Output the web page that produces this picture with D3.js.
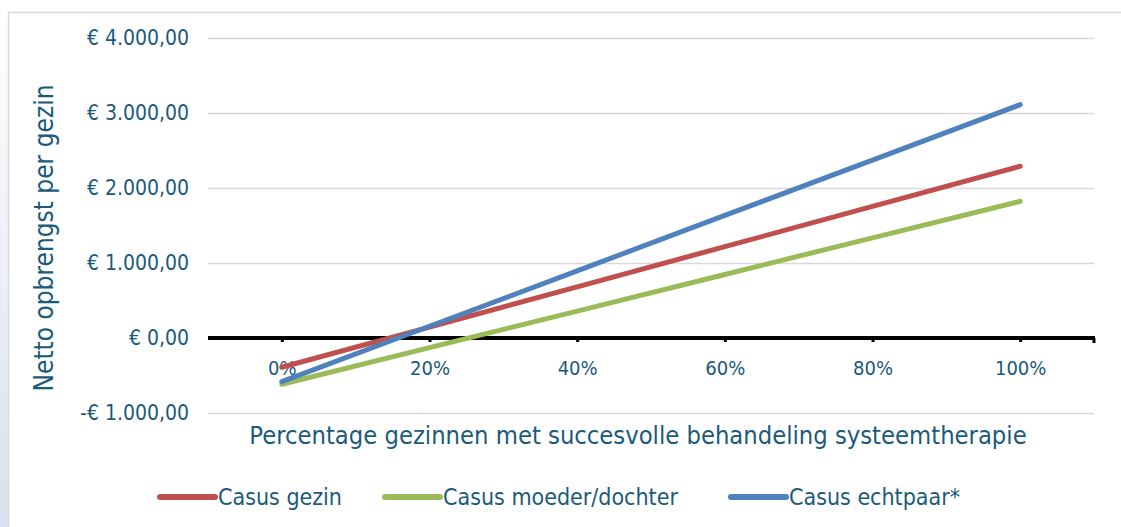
<!DOCTYPE html>
<html>
<head>
<meta charset="utf-8">
<script src="https://cdn.jsdelivr.net/npm/d3@7"></script>
<style>
  body { margin: 0; background: #fff; }
  svg text { font-family: "DejaVu Sans Condensed", "DejaVu Sans", sans-serif; fill: #1b5a7a; }
  .grid line { stroke: #d9d9d9; stroke-width: 1.5; }
  .grid .domain { display: none; }
</style>
</head>
<body>
<div id="chart"></div>
<script>
// data
var categories = ['0%', '20%', '40%', '60%', '80%', '100%'];
var gezin = [-390, 146, 682, 1218, 1754, 2290];
var moederDochter = [-617, -129, 359, 847, 1335, 1823];
var echtpaar = [-582, 157, 895, 1634, 2372, 3111];
var yTicks = [-1000, 0, 1000, 2000, 3000, 4000];
var legendNames = ['Casus gezin', 'Casus moeder/dochter', 'Casus echtpaar*'];

var series = [
  { name: legendNames[0], values: gezin, color: '#c0504d' },
  { name: legendNames[1], values: moederDochter, color: '#9bbb59' },
  { name: legendNames[2], values: echtpaar, color: '#4f81bd' }
];

var W = 1121, H = 527;
var plot = { left: 208, right: 1094, top: 38, bottom: 413 };

var svg = d3.select('#chart').append('svg')
  .attr('width', W)
  .attr('height', H);

// left bluish strip + frame
var grad = svg.append('defs').append('linearGradient')
  .attr('id', 'side').attr('x1', 0).attr('y1', 0).attr('x2', 0).attr('y2', 1);
grad.append('stop').attr('offset', 0).attr('stop-color', '#ffffff');
grad.append('stop').attr('offset', 1).attr('stop-color', '#d9e1ee');
svg.append('rect').attr('x', 0).attr('y', 0).attr('width', 8).attr('height', H).attr('fill', 'url(#side)');
svg.append('rect')
  .attr('x', 8.5).attr('y', 12.5).attr('width', W).attr('height', H)
  .attr('fill', '#fff').attr('stroke', '#d9d9d9').attr('stroke-width', 1.5);

var x = d3.scalePoint()
  .domain(categories)
  .range([plot.left, plot.right])
  .padding(0.5);

var y = d3.scaleLinear()
  .domain([-1000, 4000])
  .range([plot.bottom, plot.top]);

var nl = d3.formatLocale({
  decimal: ',', thousands: '.', grouping: [3], currency: ['€ ', ''], minus: '-'
});
var euro = nl.format('$,.2f');

// gridlines + y labels
var yAxis = d3.axisLeft(y)
  .tickValues(yTicks)
  .tickSize(-(plot.right - plot.left))
  .tickPadding(19)
  .tickFormat(euro);

svg.append('g')
  .attr('class', 'grid')
  .attr('transform', 'translate(' + plot.left + ',0)')
  .call(yAxis)
  .selectAll('text')
  .style('font-size', '21px');

// zero axis
var xAxis = d3.axisBottom(x)
  .tickSize(4)
  .tickPadding(19);

var gx = svg.append('g')
  .attr('transform', 'translate(0,' + y(0) + ')')
  .call(xAxis);
gx.select('.domain').remove();
gx.selectAll('line').attr('stroke', '#000').attr('stroke-width', 3);
gx.selectAll('text').style('font-size', '20px');
gx.append('line')
  .attr('x1', plot.left).attr('x2', plot.right + 1)
  .attr('stroke', '#000').attr('stroke-width', 4);
gx.append('line')
  .attr('x1', plot.right).attr('x2', plot.right).attr('y1', 0).attr('y2', 5)
  .attr('stroke', '#000').attr('stroke-width', 3);

// lines
var line = d3.line()
  .x((d, i) => x(categories[i]))
  .y(d => y(d));

svg.selectAll('.series')
  .data(series)
  .enter()
  .append('path')
  .attr('class', 'series')
  .attr('d', d => line(d.values))
  .attr('fill', 'none')
  .attr('stroke', d => d.color)
  .attr('stroke-width', 5)
  .attr('stroke-linecap', 'round');

// axis titles
svg.append('text')
  .attr('x', 638)
  .attr('y', 444)
  .attr('text-anchor', 'middle')
  .style('font-size', '25.3px')
  .text('Percentage gezinnen met succesvolle behandeling systeemtherapie');

svg.append('text')
  .attr('transform', 'translate(53,238) rotate(-90)')
  .attr('text-anchor', 'middle')
  .style('font-size', '26px')
  .text('Netto opbrengst per gezin');

// legend
var legendX = [160, 385, 731];
var lg = svg.selectAll('.legend')
  .data(series)
  .enter()
  .append('g')
  .attr('class', 'legend')
  .attr('transform', (d, i) => 'translate(' + legendX[i] + ',497)');

lg.append('line')
  .attr('x1', 0).attr('x2', 55)
  .attr('stroke', d => d.color)
  .attr('stroke-width', 6)
  .attr('stroke-linecap', 'round');

lg.append('text')
  .attr('x', 58)
  .attr('dy', '0.35em')
  .style('font-size', '23px')
  .text(d => d.name);
</script>
</body>
</html>
